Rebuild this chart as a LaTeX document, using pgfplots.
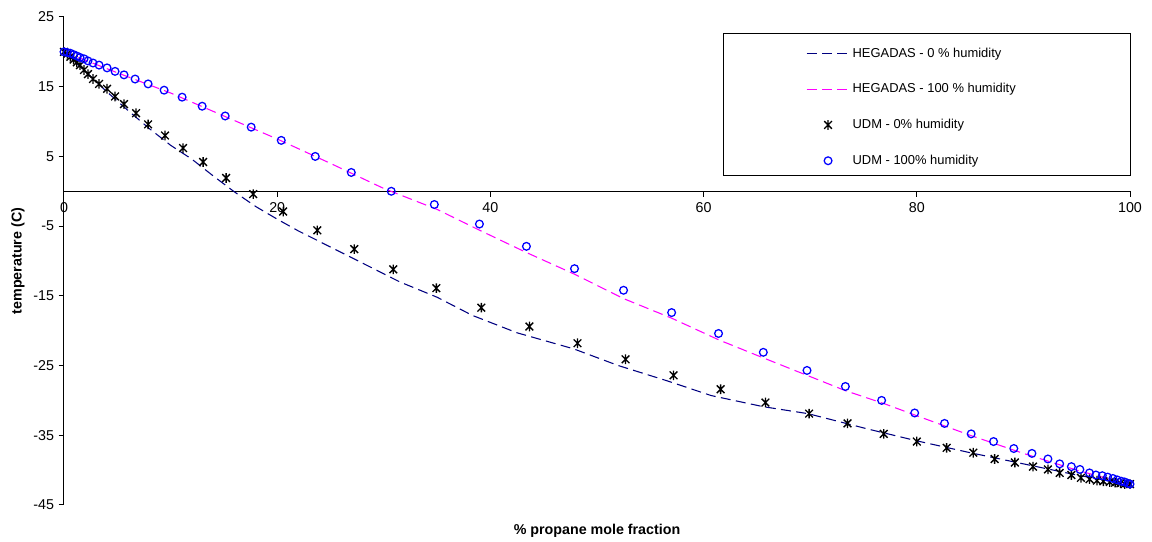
\documentclass[border=0pt]{standalone}
\usepackage{fontspec}
\setmainfont{Liberation Sans}
\usepackage{pgfplots}
\pgfplotsset{compat=1.18}
\definecolor{hnavy}{RGB}{0,0,128}
\definecolor{hmag}{RGB}{255,0,255}
\definecolor{ublue}{RGB}{0,0,255}
\pgfdeclareplotmark{xstar}{%
  \pgfpathmoveto{\pgfqpoint{-0.8\pgfplotmarksize}{-0.8\pgfplotmarksize}}%
  \pgfpathlineto{\pgfqpoint{0.8\pgfplotmarksize}{0.8\pgfplotmarksize}}%
  \pgfpathmoveto{\pgfqpoint{-0.8\pgfplotmarksize}{0.8\pgfplotmarksize}}%
  \pgfpathlineto{\pgfqpoint{0.8\pgfplotmarksize}{-0.8\pgfplotmarksize}}%
  \pgfpathmoveto{\pgfqpoint{0pt}{-\pgfplotmarksize}}%
  \pgfpathlineto{\pgfqpoint{0pt}{\pgfplotmarksize}}%
  \pgfusepathqstroke}
\pgfplotsset{
  lineleg/.style={legend image code/.code={\draw[##1] (0pt,0pt) -- (32pt,0pt);}},
  markleg/.style={legend image code/.code={\draw[##1] plot coordinates {(16pt,0pt)};}},
}
\begin{document}
\begin{tikzpicture}
\begin{axis}[
  name=ax,
  scale only axis,
  width=799.5pt, height=366pt,
  xmin=0, xmax=100, ymin=-45, ymax=25,
  axis x line=middle, axis y line=left,
  axis line style={-, line width=0.75pt, black},
  hide obscured x ticks=false,
  xtick={0,20,40,60,80,100},
  ytick={-45,-35,-25,-15,-5,5,15,25},
  tick align=outside,
  major tick length=4pt,
  tick style={line width=0.75pt, black},
  minor tick num=0,
  /pgf/number format/assume math mode=true,
  tick label style={font=\fontsize{10.7}{12}\selectfont},
  xticklabel style={yshift=-1pt},
  label style={font=\fontsize{10.7}{12}\selectfont\bfseries},
  xlabel={\% propane mole fraction},
  ylabel={temperature (C)},
  xlabel style={at={(axis description cs:0.5,0)}, yshift=-19pt, anchor=center},
  ylabel style={at={(axis description cs:-0.0432,0.5)}, anchor=center},
  legend style={draw=none, fill=none, at={(axis description cs:0.696,0.943)}, anchor=north west,
    font=\fontsize{9.7}{11}\selectfont, row sep=14.3pt, inner sep=0pt},
  legend cell align=left,
  clip=false,
]
% HEGADAS 0% humidity
\addplot[hnavy, line width=0.8pt, dash pattern=on 7.5pt off 4pt, lineleg] coordinates {
(0,20) (2,17.2) (4,14.3) (6,11.6) (8,9.0) (10,6.6) (12,4.6) (14,2.2) (16,-0.1)
(18,-2.2) (20,-4.0) (22,-5.7) (25,-8.0) (28,-10.3) (31.5,-13.0) (35,-15.2)
(38.3,-17.8) (42.5,-20.3) (47.8,-22.6) (52,-25.0) (56.6,-27.2) (60.7,-29.3)
(65.6,-30.9) (69.8,-31.9) (75.4,-34.1) (80,-35.8) (85,-37.5) (90,-39.1)
(95,-40.7) (100,-42.1)};
\addlegendentry{HEGADAS - 0 \% humidity}
% HEGADAS 100% humidity
\addplot[hmag, line width=0.8pt, dash pattern=on 7.5pt off 4pt, lineleg] coordinates {
(0,20) (5,17.0) (10,14.1) (15,10.8) (20,7.5) (25,4.0) (30,0.4) (35,-2.6)
(39,-5.6) (43.4,-8.8) (47.9,-11.9) (52.5,-15.4) (57,-18.2) (61.4,-21.3)
(65.6,-23.9) (69.7,-26.4) (73.3,-28.6) (77,-30.5) (80,-32.2) (85,-35.0)
(90,-37.6) (95,-40.0) (100,-42.1)};
\addlegendentry{HEGADAS - 100 \% humidity}
% UDM 0% humidity
\addplot[only marks, mark=xstar, mark size=3.6pt, black, line width=1pt, markleg] coordinates {
(0,20.0) (0.3,19.7) (0.6,19.3) (0.9,18.9) (1.2,18.5) (1.5,18.1)
(1.88,17.4) (2.25,16.8) (2.72,16.1) (3.29,15.4) (4.04,14.7) (4.79,13.6)
(5.63,12.5) (6.76,11.2) (7.89,9.6) (9.48,8.0) (11.17,6.2) (13.05,4.2)
(15.21,1.9) (17.75,-0.4) (20.56,-2.9) (23.76,-5.6) (27.23,-8.3) (30.89,-11.2)
(34.93,-13.9) (39.15,-16.7) (43.66,-19.4) (48.17,-21.8) (52.68,-24.1)
(57.18,-26.4) (61.6,-28.4) (65.8,-30.3) (69.9,-31.9) (73.5,-33.3)
(76.9,-34.8) (80.0,-35.9) (82.8,-36.8) (85.3,-37.5) (87.3,-38.4)
(89.2,-38.9) (90.9,-39.5) (92.3,-39.9) (93.4,-40.4) (94.5,-40.7)
(95.4,-41.1) (96.2,-41.3) (96.9,-41.5) (97.5,-41.6) (98.1,-41.7)
(98.6,-41.8) (99.1,-41.9) (99.5,-42.0) (100,-42.0)};
\addlegendentry{UDM - 0\% humidity}
% UDM 100% humidity
\addplot[only marks, mark=o, mark size=2.9pt, ublue, line width=0.95pt, markleg] coordinates {
(0,20.0) (0.3,19.9) (0.6,19.8) (0.9,19.6) (1.2,19.4) (1.5,19.2)
(1.88,19.0) (2.25,18.7) (2.72,18.4) (3.29,18.1) (4.04,17.7) (4.79,17.2)
(5.63,16.7) (6.67,16.1) (7.89,15.4) (9.39,14.5) (11.08,13.5) (12.96,12.2)
(15.12,10.8) (17.56,9.2) (20.38,7.3) (23.57,5.0) (26.95,2.7) (30.7,0.0)
(34.74,-1.9) (38.97,-4.7) (43.38,-7.9) (47.89,-11.1) (52.49,-14.2)
(57.0,-17.4) (61.4,-20.4) (65.6,-23.1) (69.7,-25.7) (73.3,-28.0)
(76.7,-30.0) (79.8,-31.8) (82.6,-33.3) (85.1,-34.8) (87.2,-35.9)
(89.1,-36.9) (90.8,-37.6) (92.3,-38.4) (93.4,-39.1) (94.5,-39.5)
(95.3,-39.9) (96.2,-40.4) (96.8,-40.7) (97.4,-40.8) (97.9,-41.0)
(98.4,-41.2) (98.8,-41.4) (99.2,-41.6) (99.5,-41.7) (99.8,-41.9) (100,-42.0)};
\addlegendentry{UDM - 100\% humidity}
\draw[black, line width=0.75pt] (axis description cs:0.619,0.967) rectangle (axis description cs:1.0,0.676);
\end{axis}
\pgfresetboundingbox
\path[use as bounding box] ([shift={(-48pt,-27.75pt)}]ax.south west) rectangle ([shift={(16.5pt,12.75pt)}]ax.north east);
\end{tikzpicture}
\end{document}
